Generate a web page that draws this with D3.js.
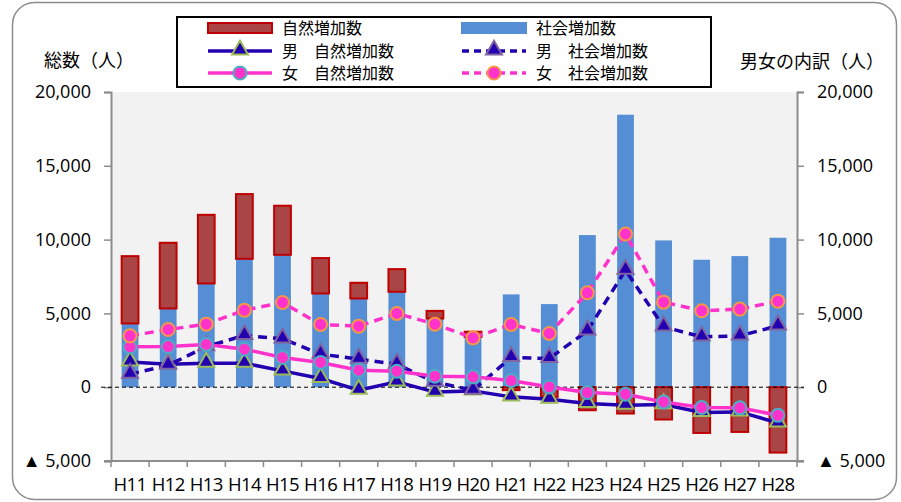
<!DOCTYPE html>
<html>
<head>
<meta charset="utf-8">
<script src="https://cdn.jsdelivr.net/npm/d3@7"></script>
<style>
    body { margin: 0; background: #fff; }
    svg { display: block; font-family: "Noto Sans CJK JP", "Noto Sans", sans-serif; }
</style>
</head>
<body>
<div class="chart"></div>
<script>

// Years (Heisei)
var years = ["H11", "H12", "H13", "H14", "H15", "H16", "H17", "H18", "H19",
             "H20", "H21", "H22", "H23", "H24", "H25", "H26", "H27", "H28"];

// Totals (people)
var natural = [4560, 4450, 4650, 4385, 3325, 2400, 1065, 1535, 515,
               350, -200, -660, -1560, -1785, -2190, -3100, -3030, -4430];
var social = [4320, 5335, 7030, 8700, 8970, 6350, 6010, 6465, 4655,
              3410, 6285, 5630, 10306, 18462, 9944, 8634, 8882, 10125];

// Breakdown by sex
var maleNatural = [1715, 1560, 1627, 1627, 1107, 590, -200, 360, -330,
                   -250, -655, -815, -1105, -1220, -1175, -1715, -1675, -2420];
var maleSocial = [880, 1490, 2750, 3505, 3275, 2240, 1900, 1560, 340,
                  -200, 2015, 1945, 3820, 7930, 4090, 3410, 3480, 4160];
var femaleNatural = [2735, 2755, 2895, 2575, 2010, 1675, 1150, 1085, 745,
                     700, 450, 20, -360, -475, -1000, -1380, -1400, -1900];
var femaleSocial = [3480, 3910, 4270, 5220, 5740, 4250, 4135, 4995, 4270,
                    3345, 4250, 3640, 6395, 10375, 5763, 5175, 5290, 5830];

var yTicks = [-5000, 0, 5000, 10000, 15000, 20000];

var width = 901, height = 502;
var plot = { left: 111, right: 797, top: 92, bottom: 461 };

var svg = d3.select(".chart")
    .append("svg")
      .attr("width", width)
      .attr("height", height);

// Outer rounded frame
svg.append("rect")
    .attr("x", 12.5).attr("y", 2.5)
    .attr("width", 884).attr("height", 497)
    .attr("rx", 22)
    .style("fill", "#fff")
    .style("stroke", "#8c8c8c")
    .style("stroke-width", 1.5);

// Plot area
svg.append("rect")
    .attr("x", plot.left).attr("y", plot.top)
    .attr("width", plot.right - plot.left)
    .attr("height", plot.bottom - plot.top)
    .style("fill", "#f2f2f2");

var x = d3.scaleBand()
    .domain(years)
    .range([plot.left, plot.right])
    .paddingInner(0.56)
    .paddingOuter(0.28);

var y = d3.scaleLinear()
    .domain([-5000, 20000])
    .range([plot.bottom, plot.top]);

var center = function(i) { return x(years[i]) + x.bandwidth() / 2; };

var fmt = function(d) {
    return d < 0 ? "\u25B2 " + d3.format(",")(-d) : d3.format(",")(d);
};

var numFont = "'Open Sans', 'Noto Sans', sans-serif";

// Left axis
var yAxisL = d3.axisLeft(y).tickValues(yTicks).tickSize(7).tickPadding(13).tickFormat(fmt);
var gL = svg.append("g")
    .attr("class", "yAxis")
    .attr("transform", "translate(" + plot.left + ",0)")
    .call(yAxisL);

// Right axis
var yAxisR = d3.axisRight(y).tickValues(yTicks).tickSize(7).tickPadding(13).tickFormat(fmt);
var gR = svg.append("g")
    .attr("class", "yAxis")
    .attr("transform", "translate(" + plot.right + ",0)")
    .call(yAxisR);

[gL, gR].forEach(function(g) {
    g.select(".domain").style("stroke", "#8c8c8c").style("stroke-width", 2);
    g.selectAll(".tick line").style("stroke", "#8c8c8c").style("stroke-width", 1.5);
    g.selectAll(".tick text")
        .style("font-size", "18px")
        .style("fill", "#000")
        .style("font-family", numFont);
});

// Bottom axis with ticks on band boundaries
var step = x.step();
var xStart = x.range()[0];
svg.append("line")
    .attr("x1", plot.left - 7).attr("x2", plot.right + 7)
    .attr("y1", plot.bottom).attr("y2", plot.bottom)
    .style("stroke", "#8c8c8c").style("stroke-width", 2);

svg.selectAll(".xtick")
    .data(d3.range(years.length + 1))
    .enter().append("line")
      .attr("class", "xtick")
      .attr("x1", function(d) { return xStart + d * step; })
      .attr("x2", function(d) { return xStart + d * step; })
      .attr("y1", plot.bottom)
      .attr("y2", plot.bottom + 6)
      .style("stroke", "#8c8c8c").style("stroke-width", 1.5);

svg.selectAll(".xlabel")
    .data(years)
    .enter().append("text")
      .attr("class", "xlabel")
      .attr("x", function(d, i) { return center(i); })
      .attr("y", plot.bottom + 30)
      .attr("text-anchor", "middle")
      .style("font-size", "18.5px")
      .style("letter-spacing", "-0.6px")
      .style("font-family", numFont)
      .text(function(d) { return d; });

// Bars: social from zero, natural stacked on top if positive, below zero otherwise
svg.selectAll(".social")
    .data(social)
    .enter().append("rect")
      .attr("class", "social")
      .attr("x", function(d, i) { return x(years[i]); })
      .attr("y", function(d) { return y(Math.max(0, d)); })
      .attr("width", x.bandwidth())
      .attr("height", function(d) { return Math.abs(y(d) - y(0)); })
      .style("fill", "#558ed5");

svg.selectAll(".natural")
    .data(natural)
    .enter().append("rect")
      .attr("class", "natural")
      .attr("x", function(d, i) { return x(years[i]); })
      .attr("y", function(d, i) { return d >= 0 ? y(social[i] + d) : y(0); })
      .attr("width", x.bandwidth())
      .attr("height", function(d) { return Math.abs(y(d) - y(0)); })
      .style("fill", "#a94545")
      .style("stroke", "#c00000")
      .style("stroke-width", 2);

// Zero line
svg.append("line")
    .attr("x1", plot.left - 10).attr("x2", plot.right + 7)
    .attr("y1", y(0)).attr("y2", y(0))
    .style("stroke", "#000")
    .style("stroke-width", 1)
    .style("stroke-dasharray", "4,3");

// Lines
var series = [
    { name: "男\u3000自然増加数", values: maleNatural, color: "#2200b0", dash: null, marker: "triangle", edge: "#9bbb59", fill: "#2200b0" },
    { name: "男\u3000社会増加数", values: maleSocial, color: "#2200b0", dash: "9,6", marker: "triangle", edge: "#8064a2", fill: "#2200b0" },
    { name: "女\u3000自然増加数", values: femaleNatural, color: "#ff33cc", dash: null, marker: "circle", edge: "#4bacc6", fill: "#ff33cc" },
    { name: "女\u3000社会増加数", values: femaleSocial, color: "#ff33cc", dash: "9,6", marker: "circle", edge: "#f79646", fill: "#ff33cc" }
];

var line = d3.line()
    .x(function(d, i) { return center(i); })
    .y(function(d) { return y(d); });

var triangle = d3.symbol().type(d3.symbolTriangle).size(110);

function drawMarker(g, s) {
    if (s.marker === "circle") {
        g.append("circle").attr("r", 6.5);
    } else {
        g.append("path").attr("d", triangle).attr("transform", "translate(0,-1)");
    }
    g.selectAll("circle, path")
        .style("fill", s.fill)
        .style("stroke", s.edge)
        .style("stroke-width", 2);
}

series.forEach(function(s) {
    svg.append("path")
        .datum(s.values)
        .attr("d", line)
        .style("fill", "none")
        .style("stroke", s.color)
        .style("stroke-width", 3.5)
        .style("stroke-dasharray", s.dash);

    s.values.forEach(function(v, i) {
        var g = svg.append("g")
            .attr("transform", "translate(" + center(i) + "," + y(v) + ")");
        drawMarker(g, s);
    });
});

// Axis titles
svg.append("text")
    .attr("x", 89).attr("y", 67)
    .attr("text-anchor", "middle")
    .style("font-size", "18px")
    .text("総数（人）");

svg.append("text")
    .attr("x", 812).attr("y", 68)
    .attr("text-anchor", "middle")
    .style("font-size", "18px")
    .text("男女の内訳（人）");

// Legend
var legend = svg.append("g");
legend.append("rect")
    .attr("x", 177).attr("y", 17)
    .attr("width", 534).attr("height", 70)
    .style("fill", "#fff")
    .style("stroke", "#000")
    .style("stroke-width", 2);

var legendBars = [
    { name: "自然増加数", fill: "#a94545", stroke: "#c00000" },
    { name: "社会増加数", fill: "#558ed5", stroke: "#558ed5" }
];
var colX = [208, 462];
var rowY = [28, 51, 73];

legendBars.forEach(function(b, k) {
    legend.append("rect")
        .attr("x", colX[k]).attr("y", rowY[0] - 5)
        .attr("width", 64).attr("height", 10)
        .style("fill", b.fill)
        .style("stroke", b.stroke)
        .style("stroke-width", 2);
    legend.append("text")
        .attr("x", colX[k] + 74).attr("y", rowY[0] + 6)
        .style("font-size", "16px")
        .text(b.name);
});

series.forEach(function(s, k) {
    var cx = colX[k % 2], cy = rowY[1 + Math.floor(k / 2)];
    legend.append("line")
        .attr("x1", cx).attr("x2", cx + 64)
        .attr("y1", cy).attr("y2", cy)
        .style("stroke", s.color)
        .style("stroke-width", 3.5)
        .style("stroke-dasharray", s.dash ? "7,5" : null);
    var g = legend.append("g").attr("transform", "translate(" + (cx + 32) + "," + cy + ")");
    drawMarker(g, s);
    legend.append("text")
        .attr("x", cx + 74).attr("y", cy + 6)
        .style("font-size", "16px")
        .text(s.name);
});

</script>
</body>
</html>
